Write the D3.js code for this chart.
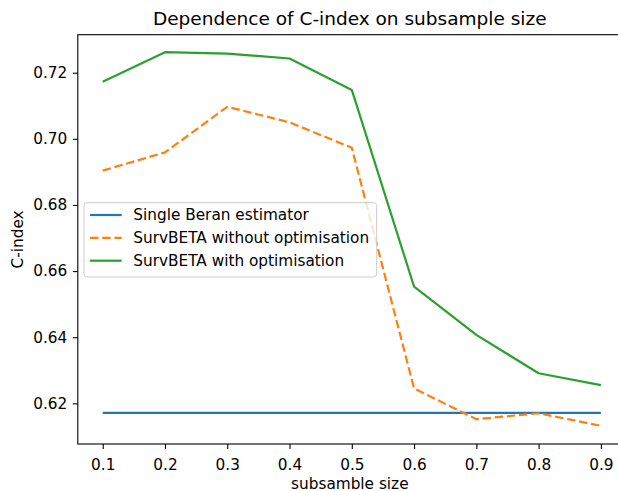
<!DOCTYPE html>
<html>
<head>
<meta charset="utf-8">
<script src="https://cdn.jsdelivr.net/npm/d3@7"></script>
<style>
html,body{margin:0;padding:0;background:#fff;overflow:hidden;}
svg{display:block;font-family:"DejaVu Sans",sans-serif;}
</style>
</head>
<body>
<svg id="chart" width="618" height="491"></svg>
<script>
const subsampleSizes = [0.1,0.2,0.3,0.4,0.5,0.6,0.7,0.8,0.9];
const singleBeran = [0.6171,0.6171,0.6171,0.6171,0.6171,0.6171,0.6171,0.6171,0.6171];
const survbetaNoOpt = [0.6904,0.6959,0.7097,0.7050,0.6973,0.6245,0.6152,0.6170,0.6132];
const survbetaOpt = [0.7173,0.7262,0.7258,0.7243,0.7148,0.6553,0.6407,0.6291,0.6255];
const xTicks = [0.1,0.2,0.3,0.4,0.5,0.6,0.7,0.8,0.9];
const yTicks = [0.62,0.64,0.66,0.68,0.70,0.72];
const seriesNames = ["Single Beran estimator","SurvBETA without optimisation","SurvBETA with optimisation"];

const series = [
  {name: seriesNames[0], values: singleBeran, color: "#1f77b4", dash: null},
  {name: seriesNames[1], values: survbetaNoOpt, color: "#ff7f0e", dash: "8.5,3.7"},
  {name: seriesNames[2], values: survbetaOpt, color: "#2ca02c", dash: null}
];

const FS = "15.3px", TFS = "18.5px";
const svg = d3.select("#chart");
const L = 77.8, R = 625.8, T = 34.7, B = 444;
const x = d3.scaleLinear().domain([0.06, 0.94]).range([L, R]);
const y = d3.scaleLinear().domain([0.6077, 0.7315]).range([B, T]);

// lines
const line = d3.line().x((d,i)=>x(subsampleSizes[i])).y(d=>y(d));
series.forEach(s=>{
  svg.append("path").datum(s.values)
    .attr("d", line)
    .attr("fill","none")
    .attr("stroke", s.color)
    .attr("stroke-width", 2.2)
    .attr("stroke-dasharray", s.dash)
    .attr("stroke-linejoin","round");
});

// axes
const xAxis = d3.axisBottom(x).tickValues(xTicks).tickFormat(d3.format(".1f")).tickSize(5).tickPadding(5);
const yAxis = d3.axisLeft(y).tickValues(yTicks).tickFormat(d3.format(".2f")).tickSize(5).tickPadding(5.5);
const gx = svg.append("g").attr("transform",`translate(0,${B})`).call(xAxis);
const gy = svg.append("g").attr("transform",`translate(${L},0)`).call(yAxis);
[gx,gy].forEach(g=>{
  g.select(".domain").remove();
  g.selectAll("line").attr("stroke","#000").attr("stroke-width",1.1);
  g.selectAll("text").attr("fill","#000").style("font-size",FS).style("font-family","DejaVu Sans");
});
gx.selectAll("text").attr("y",26).attr("dy",null);

// frame
svg.append("rect").attr("x",L).attr("y",T).attr("width",R-L).attr("height",B-T)
  .attr("fill","none").attr("stroke","#000").attr("stroke-width",1.1);

// title & labels
svg.append("text").attr("x",(L+R)/2 - 2).attr("y",24.5).attr("text-anchor","middle")
  .style("font-size",TFS).attr("fill","#000").text("Dependence of C-index on subsample size");
svg.append("text").attr("x",(L+R)/2 - 2).attr("y",488.5).attr("text-anchor","middle")
  .style("font-size",FS).attr("fill","#000").text("subsamble size");
svg.append("text").attr("transform",`translate(23,${(T+B)/2}) rotate(-90)`).attr("text-anchor","middle")
  .style("font-size",FS).attr("fill","#000").text("C-index");

// legend
const lg = svg.append("g");
lg.append("rect").attr("x",84).attr("y",202.7).attr("width",292.7).attr("height",74.3)
  .attr("rx",3).attr("fill","rgba(255,255,255,0.8)").attr("stroke","#cccccc").attr("stroke-width",1);
series.forEach((s,i)=>{
  const cy = 215 + i*22.85;
  lg.append("line").attr("x1",90).attr("x2",121.7).attr("y1",cy).attr("y2",cy)
    .attr("stroke",s.color).attr("stroke-width",2.2).attr("stroke-dasharray",s.dash);
  lg.append("text").attr("x",133.3).attr("y",cy).attr("dy","0.35em")
    .style("font-size",FS).attr("fill","#000").text(s.name);
});
</script>
</body>
</html>
